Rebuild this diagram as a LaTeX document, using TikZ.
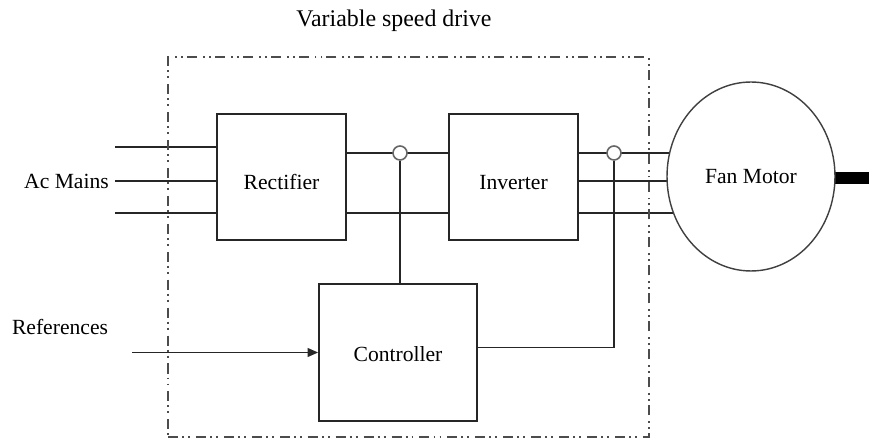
\documentclass[tikz,border=0pt]{standalone}
\usepackage{fontspec}
\setmainfont{Liberation Serif}
\usetikzlibrary{shapes.geometric, arrows.meta, positioning, calc, backgrounds}
\tikzset{
  lbl/.style={font=\fontsize{12.3}{14}\selectfont, text=black},
  stage/.style={rectangle, draw=black!85, line width=1pt, lbl,
                minimum width=2.58cm, minimum height=2.52cm,
                text height=0.52cm, text depth=0pt},
  ctrlblock/.style={stage, minimum width=3.16cm, minimum height=2.74cm,
                    text height=0.36cm},
  motor/.style={ellipse, draw=black!75, line width=0.8pt, fill=white, lbl,
                inner sep=0pt, minimum width=3.36cm, minimum height=3.78cm},
  junction/.style={circle, draw=black!60, line width=0.9pt, fill=white,
                   inner sep=0pt, minimum size=0.28cm},
  wire/.style={draw=black!85, line width=1pt},
  arrow/.style={wire, -{Triangle[length=6pt, width=5pt]}},
  shaft/.style={draw=black, line width=6.8pt},
  drivebox/.style={rectangle, draw=black!70, line width=0.8pt,
                   dash pattern=on 5.7pt off 2.3pt on 1.1pt off 2.3pt on 1.1pt off 3.4pt,
                   minimum width=9.62cm, minimum height=7.6cm},
}
\begin{document}
\begin{tikzpicture}[x=0.02cm, y=-0.02cm]
  \useasboundingbox (0,0) rectangle (869,442);

  % Drive boundary
  \node[drivebox] (vsd) at (408.5,247) {};
  \node[lbl, font=\fontsize{13.6}{16}\selectfont] (title) at (394,21) {Variable speed drive};

  % Blocks
  \node[stage] (rect) at (281.5,177) {Rectifier};
  \node[stage] (inv) at (513.5,177) {Inverter};
  \node[ctrlblock] (ctrl) at (398,352.5) {Controller};
  \node[motor] (motor) at (751,176.5) {Fan Motor};

  % Sensing points
  \node[junction] (j1) at (400,153) {};
  \node[junction] (j2) at (614,153) {};

  % Wire levels and free ends
  \coordinate (upper) at (0,153);
  \coordinate (middle) at (0,181);
  \coordinate (lower) at (0,213);
  \coordinate (ac1) at (115,147);
  \coordinate (ac2) at (115,181);
  \coordinate (ac3) at (115,213);
  \coordinate (refin) at (132,352.5);
  \coordinate (shaftend) at (869,178);

  % Labels
  \node[lbl, anchor=east] (mainslbl) at (ac2) {Ac Mains};
  \node[lbl] (reflbl) at (60,327) {References};

  % Connections
  \begin{scope}[on background layer]
    \draw[wire] (ac1) -- (ac1 -| rect.west);
    \draw[wire] (ac2) -- (ac2 -| rect.west);
    \draw[wire] (ac3) -- (ac3 -| rect.west);
    \draw[wire] (rect.east |- upper) -- (inv.west |- upper);
    \draw[wire] (rect.east |- lower) -- (inv.west |- lower);
    \draw[wire] (inv.east |- upper) -- (motor.center |- upper);
    \draw[wire] (inv.east |- middle) -- (motor.center |- middle);
    \draw[wire] (inv.east |- lower) -- (motor.center |- lower);
    \draw[shaft] (motor.center |- shaftend) -- (shaftend);
  \end{scope}
  \draw[wire] (j1.south) -- (j1.south |- ctrl.north);
  \draw[wire] (j2.south) |- ([yshift=0.1cm]ctrl.east);
  \draw[arrow] (refin) -- (ctrl.west);

\end{tikzpicture}
\end{document}
